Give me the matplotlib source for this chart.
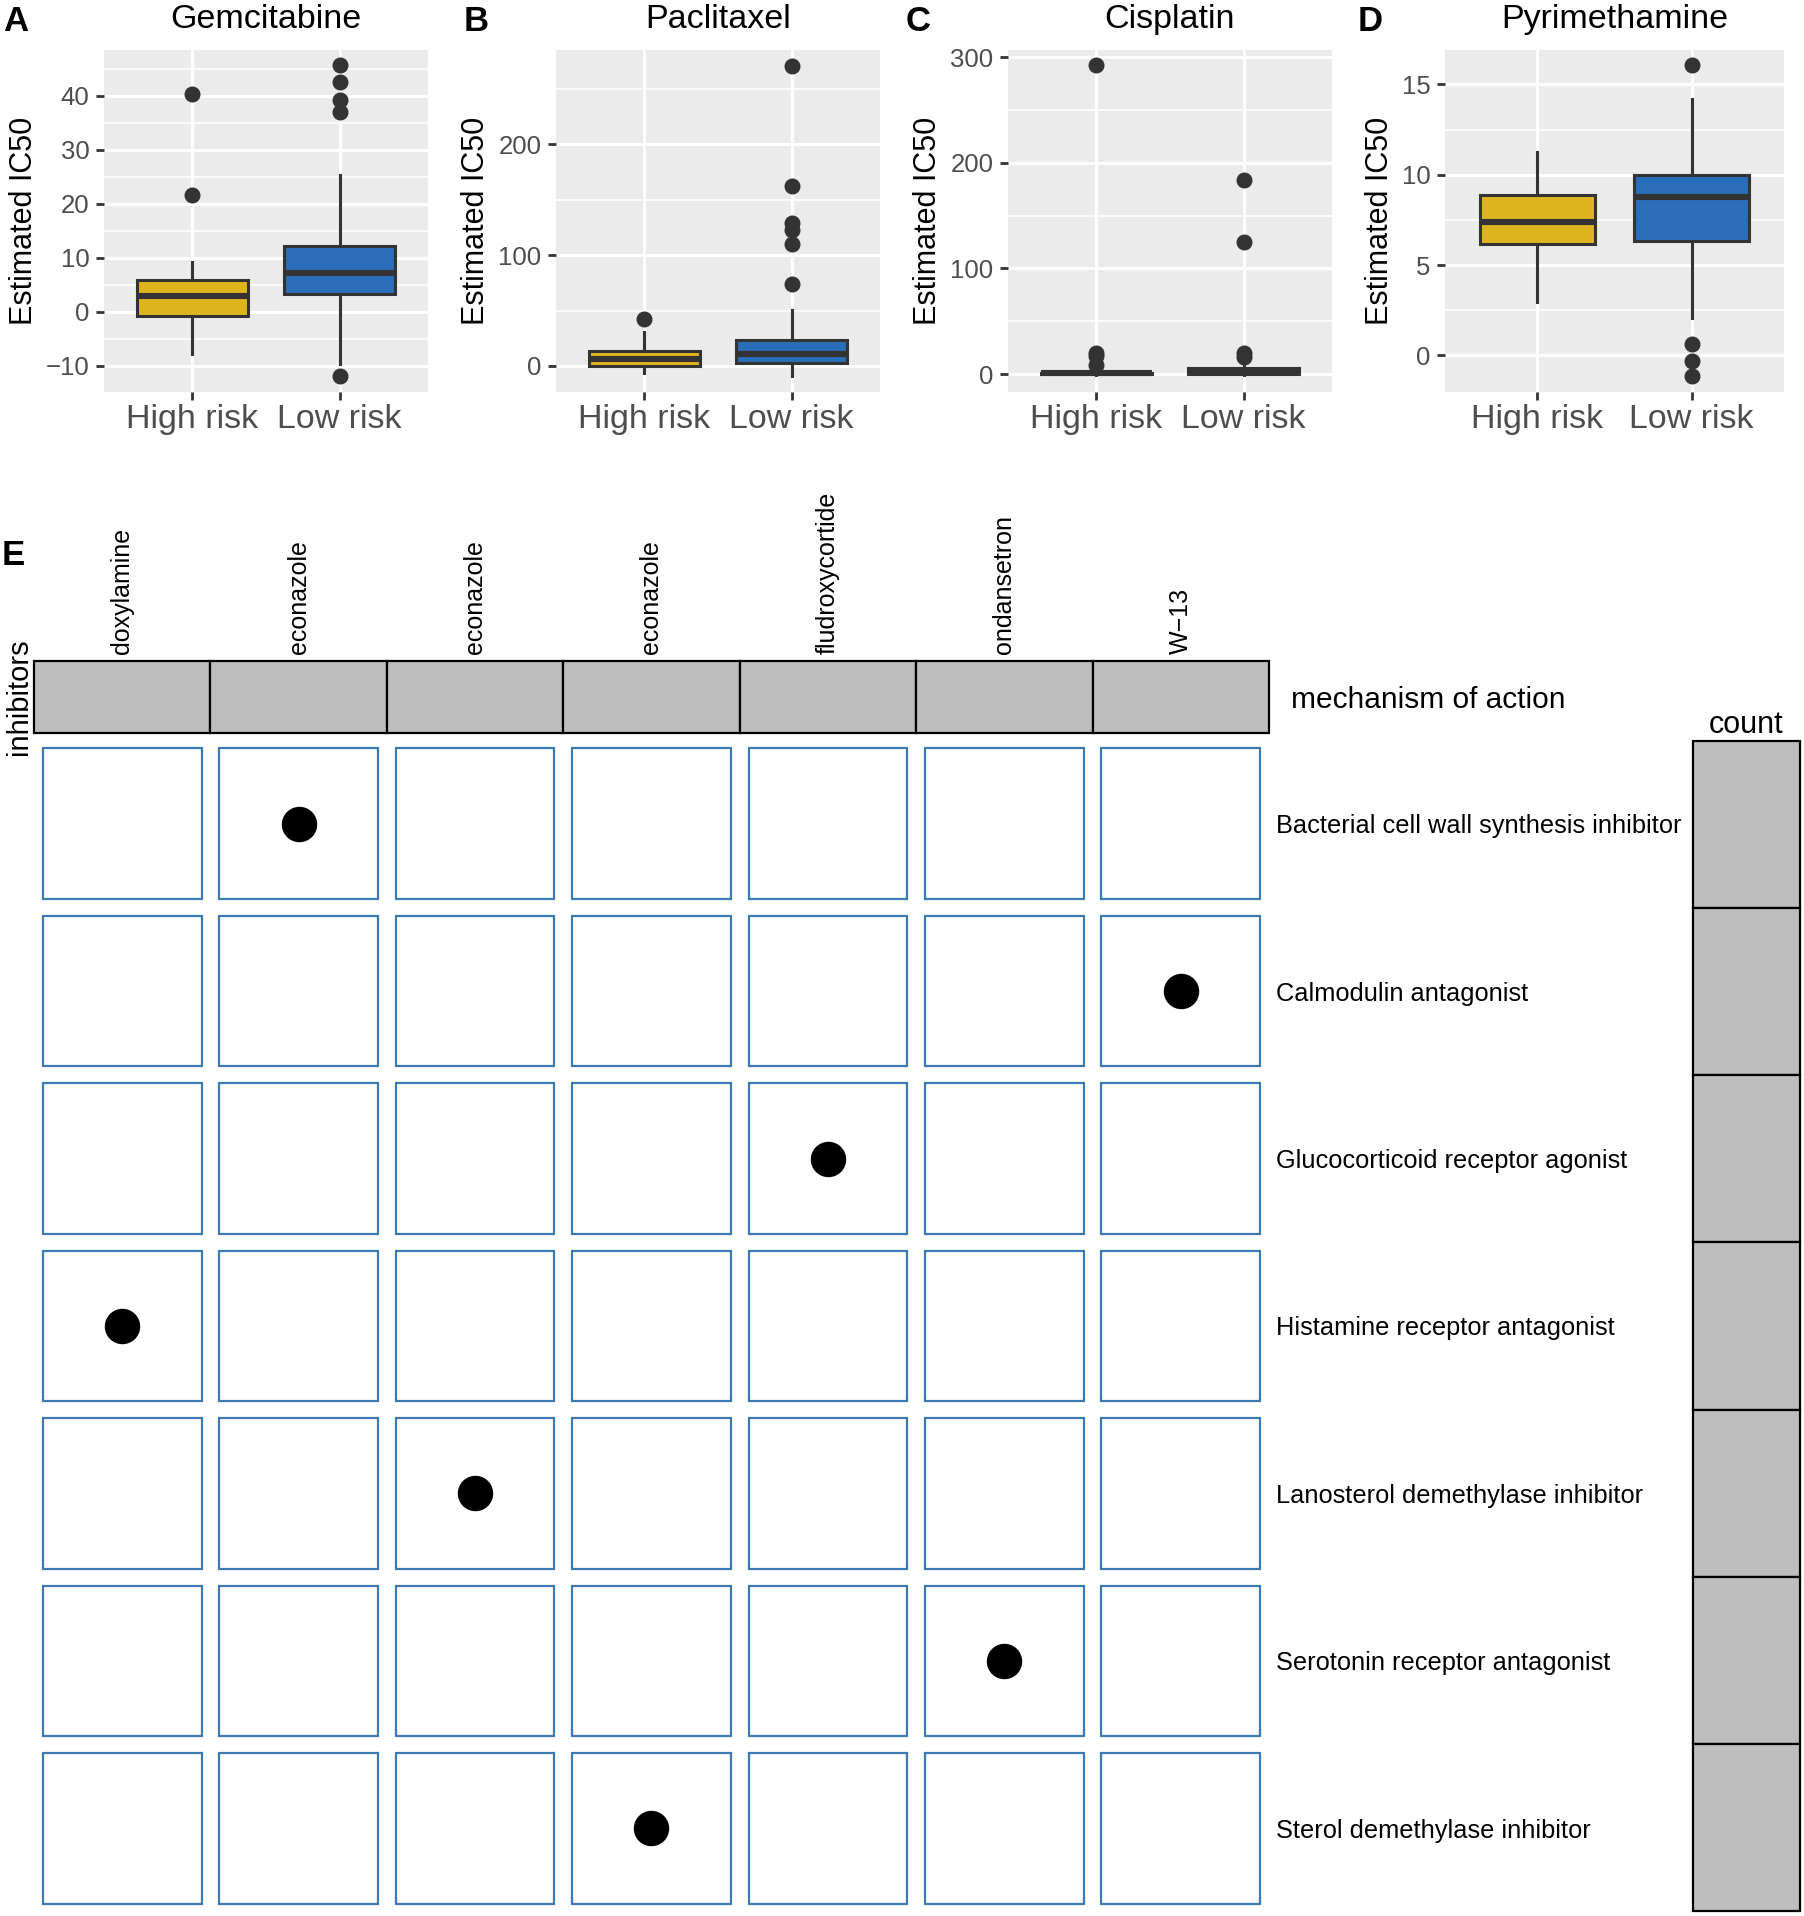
import matplotlib.pyplot as plt

W, H = 1804, 1916
DPI = 100

plt.rcParams["font.family"] = ["Liberation Sans", "DejaVu Sans"]

groups = ["High risk", "Low risk"]
box_colors = ["#DFB51D", "#2A6DB8"]

drugs = ["Gemcitabine", "Paclitaxel", "Cisplatin", "Pyrimethamine"]
# per group: whisker low, Q1, median, Q3, whisker high
gem_stats = [[-7.8, -0.8, 2.9, 5.9, 9.2], [-9.7, 3.2, 7.1, 12.2, 25.4]]
gem_fliers = [[40.3, 21.7], [45.7, 42.6, 39.3, 37.0, -11.9]]
pac_stats = [[-6.0, 0.3, 6.6, 13.8, 31.0], [-9.0, 2.4, 10.8, 23.5, 50.5]]
pac_fliers = [[42.1], [270.5, 162.5, 129.0, 123.0, 110.4, 73.6]]
cis_stats = [[-0.5, 0.0, 0.6, 1.3, 2.5], [-1.0, 0.0, 2.0, 5.8, 11.0]]
cis_fliers = [[292.7, 20.0, 17.0, 8.3], [183.7, 124.6, 20.0, 16.3]]
pyr_stats = [[2.94, 6.16, 7.41, 8.88, 11.24], [2.08, 6.34, 8.75, 9.96, 14.18]]
pyr_fliers = [[], [16.05, 0.61, -0.31, -1.14]]

all_stats = [gem_stats, pac_stats, cis_stats, pyr_stats]
all_fliers = [gem_fliers, pac_fliers, cis_fliers, pyr_fliers]

y_limits = [(-14.9, 48.5), (-23.5, 285), (-17, 306.9), (-2.02, 16.9)]
y_ticks = [[-10, 0, 10, 20, 30, 40], [0, 100, 200], [0, 100, 200, 300], [0, 5, 10, 15]]
y_minor = [[-5, 5, 15, 25, 35, 45], [50, 150, 250], [50, 150, 250], [2.5, 7.5, 12.5]]

inhibitors = ["doxylamine", "econazole", "econazole", "econazole",
              "fludroxycortide", "ondansetron", "W\u221213"]
mechanisms = ["Bacterial cell wall synthesis inhibitor",
              "Calmodulin antagonist",
              "Glucocorticoid receptor agonist",
              "Histamine receptor antagonist",
              "Lanosterol demethylase inhibitor",
              "Serotonin receptor antagonist",
              "Sterol demethylase inhibitor"]
hit_column = [1, 6, 4, 0, 2, 5, 3]

fig = plt.figure(figsize=(W / DPI, H / DPI), dpi=DPI)


def add_axes_px(x0, y0, x1, y1):
    return fig.add_axes([x0 / W, 1 - y1 / H, (x1 - x0) / W, (y1 - y0) / H])


def fig_text(x, y, s, **kw):
    fig.text(x / W, 1 - y / H, s, **kw)


# --- box plots A-D
panel_px = [(104, 428), (556, 880), (1008, 1332), (1445, 1784)]
letter_x = [3, 464, 906, 1358]
dark = "#333333"

for k, drug in enumerate(drugs):
    x0, x1 = panel_px[k]
    ax = add_axes_px(x0, 50, x1, 392)
    stats = []
    for g in range(2):
        lo, q1, med, q3, hi = all_stats[k][g]
        stats.append(dict(whislo=lo, q1=q1, med=med, q3=q3, whishi=hi,
                          fliers=all_fliers[k][g], label=groups[g]))
    parts = ax.bxp(stats, positions=[1, 2], widths=0.75, patch_artist=True,
                   showcaps=False,
                   boxprops=dict(edgecolor=dark, linewidth=2.2),
                   medianprops=dict(color=dark, linewidth=4.4, solid_capstyle="butt"),
                   whiskerprops=dict(color=dark, linewidth=2.2),
                   flierprops=dict(marker="o", markerfacecolor=dark,
                                   markeredgecolor=dark, markersize=10.5))
    for patch, c in zip(parts["boxes"], box_colors):
        patch.set_facecolor(c)

    ax.set_xlim(0.4, 2.6)
    ax.set_ylim(*y_limits[k])
    ax.set_yticks(y_ticks[k])
    ax.set_yticks(y_minor[k], minor=True)
    ax.set_xticks([1, 2])
    ax.set_xticklabels(groups)
    ax.set_facecolor("#EBEBEB")
    ax.set_axisbelow(True)
    ax.grid(which="major", color="white", linewidth=2.2)
    ax.grid(which="minor", axis="y", color="white", linewidth=1.1)
    for sp in ax.spines.values():
        sp.set_visible(False)
    ax.tick_params(which="major", length=5.5, width=2, color=dark,
                   labelcolor="#4D4D4D")
    ax.tick_params(which="minor", length=0)
    ax.tick_params(axis="y", labelsize=18.5, pad=5)
    ax.tick_params(axis="x", labelsize=24.5, pad=3)
    ax.set_ylabel("Estimated IC50", fontsize=22, labelpad=5)

    fig_text((x0 + x1) / 2, 28, drug, fontsize=24.5, ha="center", va="baseline")
    fig_text(letter_x[k], 31, "ABCD"[k], fontsize=25, fontweight="bold",
             ha="left", va="baseline")

# --- panel E
fig_text(2, 565, "E", fontsize=25, fontweight="bold", ha="left", va="baseline")

grey = "#BEBEBE"
blue = "#3D7AB3"
ncol = len(inhibitors)
nrow = len(mechanisms)

ax_h = add_axes_px(34, 661, 1269, 733)
ax_h.bar(range(ncol), 1, width=1, bottom=0, color=grey, edgecolor="black",
         linewidth=1.6, clip_on=False)
ax_h.set_xlim(-0.5, ncol - 0.5)
ax_h.set_ylim(0, 1)
for sp in ax_h.spines.values():
    sp.set_visible(False)
ax_h.xaxis.set_ticks_position("top")
ax_h.set_xticks(range(ncol))
ax_h.set_xticklabels(inhibitors, rotation=90, fontsize=18)
ax_h.yaxis.set_ticks_position("right")
ax_h.set_yticks([0.5])
ax_h.set_yticklabels(["mechanism of action"], fontsize=21.5)
ax_h.tick_params(axis="x", length=0, pad=5)
ax_h.tick_params(axis="y", length=0, pad=16)
ax_h.set_ylabel("inhibitors", fontsize=21, labelpad=1)

ax_m = add_axes_px(34, 740, 1269, 1912)
for i in range(nrow):
    ax_m.bar(range(ncol), 0.9, width=0.9, bottom=i - 0.45, color="white",
             edgecolor=blue, linewidth=1.6)
ax_m.scatter(hit_column, range(nrow), s=600, color="black", zorder=3)
ax_m.set_xlim(-0.5, ncol - 0.5)
ax_m.set_ylim(nrow - 0.5, -0.5)
for sp in ax_m.spines.values():
    sp.set_visible(False)
ax_m.set_xticks([])
ax_m.yaxis.set_ticks_position("right")
ax_m.set_yticks(range(nrow))
ax_m.set_yticklabels(mechanisms, fontsize=18.3)
ax_m.tick_params(axis="y", length=0, pad=5)

ax_c = add_axes_px(1693, 741, 1800, 1911)
ax_c.barh(range(nrow), 1, height=1, left=0, color=grey, edgecolor="black",
          linewidth=1.6, clip_on=False)
ax_c.set_xlim(0, 1)
ax_c.set_ylim(nrow - 0.5, -0.5)
ax_c.axis("off")
fig_text(1746, 733, "count", fontsize=22, ha="center", va="baseline")

fig.savefig("out.png", dpi=DPI)
